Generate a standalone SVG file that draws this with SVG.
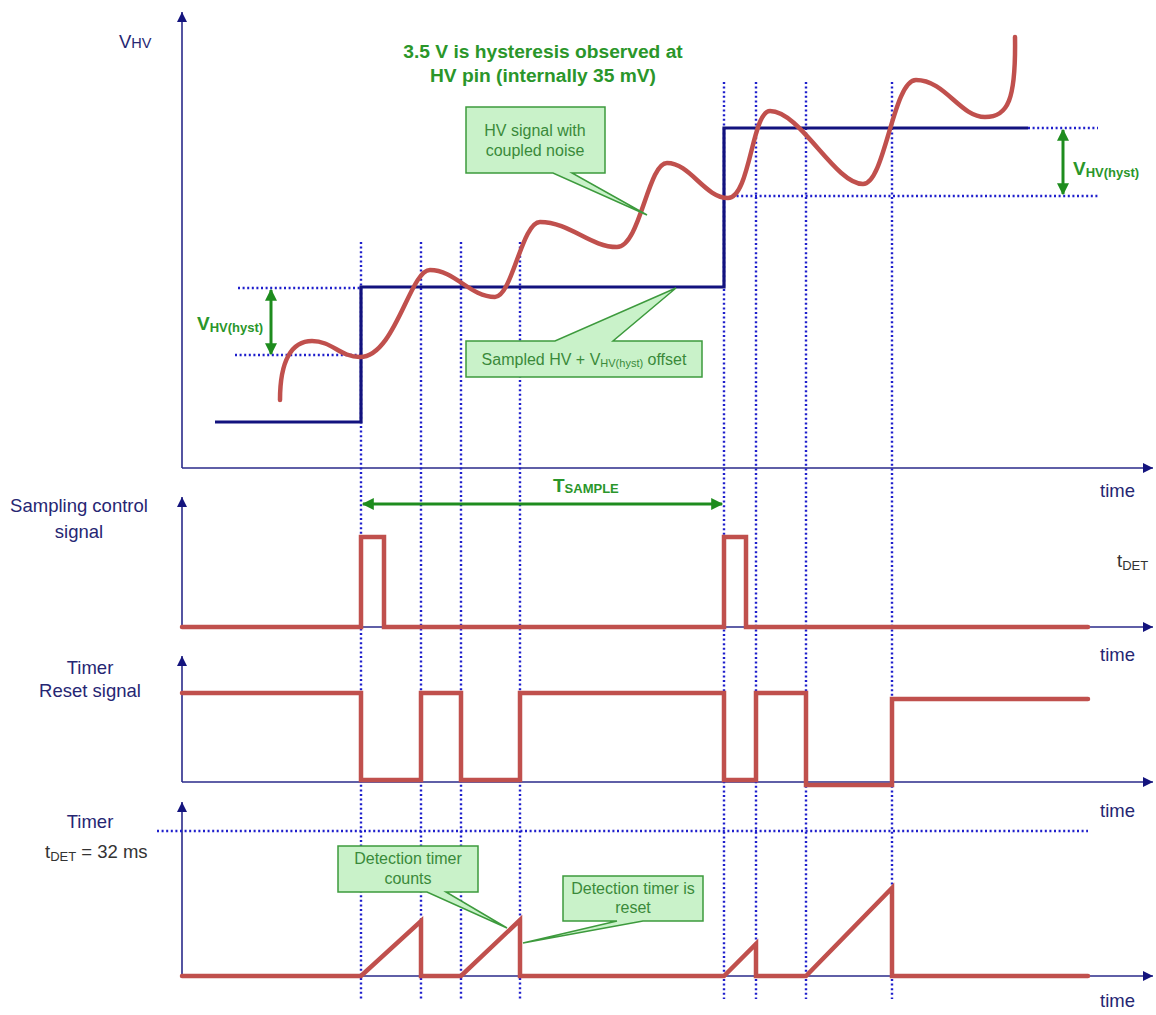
<svg xmlns="http://www.w3.org/2000/svg" width="1156" height="1015" viewBox="0 0 1156 1015">
<style>
.axis{stroke:#2a2a8a;stroke-width:1.6;fill:none}
.dot{stroke:#1f1fcc;stroke-width:2.4;stroke-dasharray:2 2.6;fill:none}
.step{stroke:#12127e;stroke-width:3.2;fill:none}
.sig{stroke:#c0504d;stroke-width:4.5;fill:none;stroke-linejoin:miter;stroke-linecap:round}
.garrow{stroke:#1e8c1e;stroke-width:3;fill:none}
.lbl{font-family:"Liberation Sans",Arial,sans-serif;fill:#262673;font-size:18.5px}
.blk{font-family:"Liberation Sans",Arial,sans-serif;fill:#333333;font-size:18.5px}
.gt{font-family:"Liberation Sans",Arial,sans-serif;fill:#2a962a;font-weight:bold}
.call{fill:#c9f2c9;stroke:#3d9a3d;stroke-width:1.5}
.ct{font-family:"Liberation Sans",Arial,sans-serif;fill:#3a8a3a;font-size:16px;text-anchor:middle}
</style>
<defs>
<marker id="ax" viewBox="0 0 10 10" refX="10" refY="5" markerWidth="11" markerHeight="10" markerUnits="userSpaceOnUse" orient="auto">
<path d="M0,0 L10,5 L0,10 z" fill="#14147e"/>
</marker>
<marker id="ga" viewBox="0 0 10 10" refX="9" refY="5" markerWidth="13" markerHeight="12" markerUnits="userSpaceOnUse" orient="auto-start-reverse">
<path d="M0,0 L10,5 L0,10 z" fill="#1e8c1e"/>
</marker>
</defs>
<rect width="1156" height="1015" fill="#ffffff"/>

<g id="axes">
<line class="axis" x1="182" y1="468" x2="182" y2="12" marker-end="url(#ax)"/>
<line class="axis" x1="182" y1="468" x2="1153" y2="468" marker-end="url(#ax)"/>
<line class="axis" x1="182" y1="627" x2="182" y2="497" marker-end="url(#ax)"/>
<line class="axis" x1="182" y1="627" x2="1153" y2="627" marker-end="url(#ax)"/>
<line class="axis" x1="182" y1="782" x2="182" y2="656" marker-end="url(#ax)"/>
<line class="axis" x1="182" y1="782" x2="1153" y2="782" marker-end="url(#ax)"/>
<line class="axis" x1="182" y1="976" x2="182" y2="802" marker-end="url(#ax)"/>
<line class="axis" x1="182" y1="976" x2="1153" y2="976" marker-end="url(#ax)"/>
</g>

<g id="guides">
<line class="dot" x1="361" y1="242" x2="361" y2="999"/>
<line class="dot" x1="421" y1="242" x2="421" y2="999"/>
<line class="dot" x1="461" y1="242" x2="461" y2="999"/>
<line class="dot" x1="520" y1="242" x2="520" y2="999"/>
<line class="dot" x1="724" y1="82" x2="724" y2="999"/>
<line class="dot" x1="756" y1="82" x2="756" y2="999"/>
<line class="dot" x1="806" y1="82" x2="806" y2="999"/>
<line class="dot" x1="892" y1="82" x2="892" y2="999"/>
<line class="dot" x1="238" y1="288" x2="361" y2="288"/>
<line class="dot" x1="235" y1="355" x2="361" y2="355"/>
<line class="dot" x1="1028" y1="128" x2="1098" y2="128"/>
<line class="dot" x1="732" y1="196" x2="1100" y2="196"/>
<line class="dot" x1="157" y1="831" x2="1088" y2="831"/>
</g>

<g id="hv-step">
<polyline class="step" points="215,422 361,422 361,287 724,287 724,128 1028,128"/>
</g>

<g id="hv-signal">
<path class="sig" d="M280,400 C280,360 292,341 312,341 C332,341 340,357 360,357 C395,357 410,270 430,270 C455,270 470,297 495,297 C512,297 522,222 540,222 C570,222 590,247 617,247 C640,247 648,163 667,163 C690,163 705,198 728,198 C750,198 752,111 770,111 C800,111 835,184 863,184 C885,184 893,80 916,80 C945,80 960,117 985,117 C1008,117 1016,100 1015,37"/>
</g>

<g id="sampling-signal">
<polyline class="sig" points="182,627 361,627 361,537 384,537 384,627 724,627 724,537 746,537 746,627 1088,627"/>
</g>

<g id="reset-signal">
<polyline class="sig" points="182,693 361,693 361,780 421,780 421,693 461,693 461,780 520,780 520,693 724,693 724,780 756,780 756,693 806,693 806,785 892,785 892,699 1088,699"/>
</g>

<g id="timer-signal">
<polyline class="sig" points="182,976 361,976 421,921 421,976 461,976 520,920 520,976 724,976 756,944 756,976 806,976 892,888 892,976 1088,976"/>
</g>

<g id="dimension-arrows">
<line class="garrow" x1="271" y1="290" x2="271" y2="354" marker-start="url(#ga)" marker-end="url(#ga)"/>
<line class="garrow" x1="1063" y1="130" x2="1063" y2="194" marker-start="url(#ga)" marker-end="url(#ga)"/>
<line class="garrow" x1="363" y1="504" x2="722" y2="504" marker-start="url(#ga)" marker-end="url(#ga)"/>
</g>

<g id="callout-noise">
<path class="call" d="M466,107 H605 V173 H572 L647,215 L553,173 H466 Z"/>
<text class="ct" x="535" y="136">HV signal with</text>
<text class="ct" x="535" y="156">coupled noise</text>
</g>

<g id="callout-sampled">
<path class="call" d="M466,341 H555 L676,288 L613,341 H702 V377 H466 Z"/>
<text class="ct" x="584" y="365">Sampled HV + V<tspan font-size="11" dy="2">HV(hyst)</tspan><tspan dy="-2"> offset</tspan></text>
</g>

<g id="callout-counts">
<path class="call" d="M338,846 H478 V892 H446 L507,928 L427,892 H338 Z"/>
<text class="ct" x="408" y="864">Detection timer</text>
<text class="ct" x="408" y="884">counts</text>
</g>

<g id="callout-reset">
<path class="call" d="M563,876 H703 V921 H643 L523,943 L617,921 H563 Z"/>
<text class="ct" x="633" y="894">Detection timer is</text>
<text class="ct" x="633" y="913">reset</text>
</g>

<g id="labels">
<text class="lbl" x="119" y="48" font-size="20">V<tspan font-size="14.5">HV</tspan></text>
<text class="gt" x="543" y="58" font-size="19.2" text-anchor="middle">3.5 V is hysteresis observed at</text>
<text class="gt" x="543" y="82" font-size="19.2" text-anchor="middle">HV pin (internally 35 mV)</text>
<text class="gt" x="197" y="330" font-size="19">V<tspan font-size="13" dy="2">HV(hyst)</tspan></text>
<text class="gt" x="1073" y="175" font-size="19">V<tspan font-size="13" dy="2">HV(hyst)</tspan></text>
<text class="gt" x="553" y="492" font-size="19">T<tspan font-size="13" dy="1">SAMPLE</tspan></text>
<text class="lbl" x="1100" y="497">time</text>
<text class="lbl" x="79" y="512" text-anchor="middle">Sampling control</text>
<text class="lbl" x="79" y="538" text-anchor="middle">signal</text>
<text class="blk" x="1117" y="567">t<tspan font-size="13" dy="3">DET</tspan></text>
<text class="lbl" x="1100" y="661">time</text>
<text class="lbl" x="90" y="674" text-anchor="middle">Timer</text>
<text class="lbl" x="90" y="697" text-anchor="middle">Reset signal</text>
<text class="lbl" x="1100" y="817">time</text>
<text class="lbl" x="90" y="828" text-anchor="middle">Timer</text>
<text class="blk" x="45" y="858">t<tspan font-size="13" dy="3">DET</tspan><tspan dy="-3"> = 32 ms</tspan></text>
<text class="lbl" x="1100" y="1007">time</text>
</g>
</svg>
